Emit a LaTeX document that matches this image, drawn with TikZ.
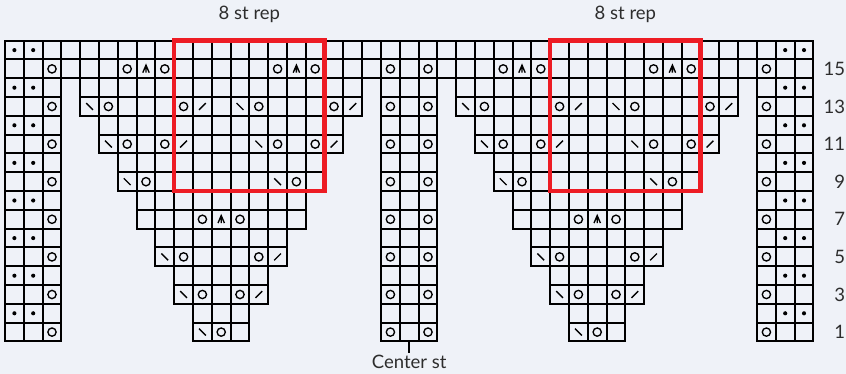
\documentclass[tikz,border=0pt]{standalone}
\usepackage{fontspec}
\setmainfont{Lato}
\usepackage{xcolor}
\usepackage{tikz}
\usetikzlibrary{positioning}
\definecolor{chartbg}{RGB}{239,242,248}
\definecolor{repred}{RGB}{237,28,36}
\definecolor{labelgray}{RGB}{45,45,45}
\tikzset{
    chart/.style={x=18.8pt, y=18.8pt},
    cellbox/.style={draw=black, line width=2pt},
    symbol/.style={draw=black, line width=1.35pt},
    repbox/.style={draw=repred, line width=4.5pt},
    chartlabel/.style={text=labelgray, font=\fontsize{18.5}{22}\selectfont, inner sep=0pt},
}
% stitch symbols, placed by column and row
\newcommand{\stYO}[2]{\draw[symbol] (#1+0.5,#2-0.5) circle (0.22);}
\newcommand{\stPurl}[2]{\fill (#1+0.5,#2-0.5) circle (0.11);}
\newcommand{\stSSK}[2]{\draw[symbol] (#1+0.32,#2-0.32) -- (#1+0.68,#2-0.68);}
\newcommand{\stKtog}[2]{\draw[symbol] (#1+0.32,#2-0.68) -- (#1+0.68,#2-0.32);}
\newcommand{\stCDD}[2]{\draw[symbol] (#1+0.33,#2-0.7) -- (#1+0.5,#2-0.3) -- (#1+0.67,#2-0.7)
    (#1+0.5,#2-0.3) -- (#1+0.5,#2-0.7);}

\begin{document}
\begin{tikzpicture}[chart]
    \fill[chartbg] (-0.266,-1.718) rectangle (44.734,18.165);
    \useasboundingbox (-0.266,-1.718) rectangle (44.734,18.165);

    % full rows at the top
    \foreach \r in {15,16}
        \foreach \c in {0,...,42}
            \draw[cellbox] (\c,\r-1) rectangle ++(1,1);
    % edge and center columns
    \foreach \r in {1,...,14}
        \foreach \c in {0,1,2,20,21,22,40,41,42}
            \draw[cellbox] (\c,\r-1) rectangle ++(1,1);
    % the two triangles, one st wider each side every 2 rows
    \foreach \r in {1,...,14} {
        \pgfmathtruncatemacro{\lo}{11-int((\r+1)/2)}
        \pgfmathtruncatemacro{\hi}{11+int((\r+1)/2)}
        \foreach \c in {\lo,...,\hi} {
            \draw[cellbox] (\c,\r-1) rectangle ++(1,1);
            \draw[cellbox] (\c+20,\r-1) rectangle ++(1,1);
        }
    }

    % edges and center
    \foreach \r in {1,3,...,15} {
        \stYO{2}{\r} \stYO{20}{\r} \stYO{22}{\r} \stYO{40}{\r}
    }
    \foreach \r in {2,4,...,16} {
        \stPurl{0}{\r} \stPurl{1}{\r} \stPurl{41}{\r} \stPurl{42}{\r}
    }

    % lace motif, same again 20 st over
    \foreach \s in {0,20} {
        \stYO{6+\s}{15} \stCDD{7+\s}{15} \stYO{8+\s}{15}
        \stYO{14+\s}{15} \stCDD{15+\s}{15} \stYO{16+\s}{15}

        \stSSK{4+\s}{13} \stYO{5+\s}{13} \stYO{9+\s}{13} \stKtog{10+\s}{13}
        \stSSK{12+\s}{13} \stYO{13+\s}{13} \stYO{17+\s}{13} \stKtog{18+\s}{13}

        \stSSK{5+\s}{11} \stYO{6+\s}{11} \stYO{8+\s}{11} \stKtog{9+\s}{11}
        \stSSK{13+\s}{11} \stYO{14+\s}{11} \stYO{16+\s}{11} \stKtog{17+\s}{11}

        \stSSK{6+\s}{9} \stYO{7+\s}{9} \stSSK{14+\s}{9} \stYO{15+\s}{9}

        \stYO{10+\s}{7} \stCDD{11+\s}{7} \stYO{12+\s}{7}

        \stSSK{8+\s}{5} \stYO{9+\s}{5} \stYO{13+\s}{5} \stKtog{14+\s}{5}

        \stSSK{9+\s}{3} \stYO{10+\s}{3} \stYO{12+\s}{3} \stKtog{13+\s}{3}

        \stSSK{10+\s}{1} \stYO{11+\s}{1}
    }

    % repeat boxes
    \draw[repbox] (9,8) rectangle (17,16);
    \draw[repbox] (29,8) rectangle (37,16);
    \node[chartlabel] (repleft) at (13,17.4) {8 st rep};
    \node[chartlabel] (repright) at (33,17.4) {8 st rep};

    % row numbers
    \foreach \r in {1,3,...,15}
        \node[chartlabel, anchor=east] (row\r) at (44.7,\r-0.5) {\r};

    \coordinate (centerst) at (21.5,0);
    \draw[line width=2.5pt] (centerst) -- ++(0,-0.6) coordinate (tickend);
    \node[chartlabel, below=2.5pt of tickend] (centerlabel) {Center st};
\end{tikzpicture}
\end{document}
